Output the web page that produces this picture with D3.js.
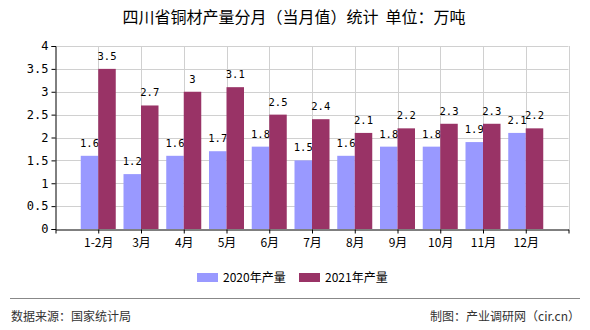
<!DOCTYPE html>
<html><head><meta charset="utf-8">
<script src="https://cdn.jsdelivr.net/npm/d3@7"></script>
<style>body{margin:0;background:#fff}svg{display:block}</style>
</head><body>
<svg id="c" width="590" height="330"></svg>
<script>
const categories = ["1-2月","3月","4月","5月","6月","7月","8月","9月","10月","11月","12月"];
const series2020 = [1.6,1.2,1.6,1.7,1.8,1.5,1.6,1.8,1.8,1.9,2.1];
const series2021 = [3.5,2.7,3,3.1,2.5,2.4,2.1,2.2,2.3,2.3,2.2];
const seriesNames = ["2020年产量","2021年产量"];
const colors = ["#9999FF","#993366"];
const yTicks = [0,0.5,1,1.5,2,2.5,3,3.5,4];

const svg = d3.select("#c");
const L=55.5, R=568.5, T=46, B=229;
const x = d3.scalePoint().domain(["", ...categories, " "]).range([L,R]);
const y = d3.scaleLinear().domain([0,4]).range([B,T]);
const bw = 17.5;
const cjk = "'Noto Sans CJK SC','Noto Sans',sans-serif";
const mono = "'DejaVu Sans Mono','Liberation Mono',monospace";

svg.append("text").attr("x",294).attr("y",23).attr("text-anchor","middle")
  .attr("font-family",cjk).attr("font-size",16).attr("fill","#000")
  .attr("xml:space","preserve").style("white-space","pre")
  .text("四川省铜材产量分月（当月值）统计  单位：万吨");

// grid
const g = svg.append("g");
g.selectAll(".hg").data(yTicks.slice(1)).enter().append("line")
  .attr("x1",L).attr("x2",R).attr("y1",d=>Math.round(y(d))+0.5).attr("y2",d=>Math.round(y(d))+0.5)
  .attr("stroke","#d0d0d0");
g.selectAll(".vg").data([...categories," "]).enter().append("line")
  .attr("x1",d=>Math.round(x(d))+0.5).attr("x2",d=>Math.round(x(d))+0.5).attr("y1",T).attr("y2",B)
  .attr("stroke","#d0d0d0");

// bars
const data = categories.map((c,i)=>({c,v:[series2020[i],series2021[i]]}));
[0,1].forEach(s=>{
  svg.selectAll(".b"+s).data(data).enter().append("rect")
    .attr("x",d=>x(d.c)+(s===0?-bw:0)).attr("width",bw)
    .attr("y",d=>y(d.v[s])).attr("height",d=>B-y(d.v[s]))
    .attr("fill",colors[s]);
  svg.selectAll(".l"+s).data(data).enter().append("text")
    .attr("x",d=>x(d.c)+(s===0?-bw/2:bw/2)).attr("y",d=>y(d.v[s])-9)
    .attr("text-anchor","middle").attr("font-family",mono).attr("font-size",10.5).attr("fill","#000")
    .text(d=>d.v[s]);
});

// axes
const ya = d3.axisLeft(y).tickValues(yTicks).tickSize(4).tickFormat(d=>d);
svg.append("g").attr("transform",`translate(${L},0)`).call(ya)
  .call(a=>{a.select(".domain").attr("stroke","#000");a.selectAll("line").attr("stroke","#000");
    a.selectAll("text").attr("font-family",mono).attr("font-size",12).attr("fill","#000");});
const xa = d3.axisBottom(x).tickValues(["",...categories," "]).tickSize(4).tickSizeOuter(0).tickFormat(d=>d.trim());
svg.append("g").attr("transform",`translate(0,${B+0.5})`).call(xa)
  .call(a=>{a.select(".domain").attr("stroke","#000");a.selectAll("line").attr("stroke","#000");
    a.selectAll("text").attr("font-family",cjk).attr("font-size",12).attr("fill","#000").attr("dy","0.9em");});

// legend
const leg = [{x:197,t:seriesNames[0],c:colors[0]},{x:299,t:seriesNames[1],c:colors[1]}];
leg.forEach(l=>{
  svg.append("rect").attr("x",l.x).attr("y",273).attr("width",21).attr("height",9).attr("fill",l.c);
  svg.append("text").attr("x",l.x+26).attr("y",281.5).attr("font-family",cjk).attr("font-size",12).attr("fill","#000").text(l.t);
});

svg.append("line").attr("x1",10).attr("x2",580).attr("y1",298.5).attr("y2",298.5).attr("stroke","#888");
svg.append("text").attr("x",11).attr("y",321).attr("font-family",cjk).attr("font-size",12).attr("fill","#333").text("数据来源：国家统计局");
svg.append("text").attr("x",580).attr("y",321).attr("text-anchor","end").attr("font-family",cjk).attr("font-size",12).attr("fill","#333").text("制图：产业调研网（cir.cn）");
</script>
</body></html>
